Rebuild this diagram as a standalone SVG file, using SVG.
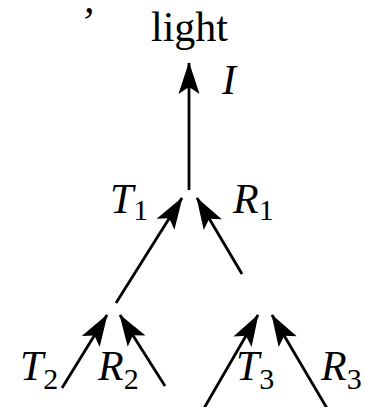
<svg xmlns="http://www.w3.org/2000/svg" width="366" height="407" viewBox="0 0 366 407">
<style>
.lbl{font-family:"Liberation Serif","Times New Roman",serif;font-size:42px;fill:#000}
.it{font-style:italic}
.sub{font-style:normal;font-size:30px}
.conn line{stroke:#000;stroke-width:2.8;fill:none;marker-end:url(#ah)}
</style>
<defs>
<marker id="ah" markerUnits="userSpaceOnUse" viewBox="-34 -12 36 24" refX="0" refY="0" markerWidth="36" markerHeight="24" orient="auto" overflow="visible">
<path d="M1,0 Q-14,-5 -31,-10.5 L-24,0 L-31,10.5 Q-14,5 1,0 Z" fill="#000"/>
</marker>
</defs>
<text class="lbl it" x="84" y="12">,</text>
<g id="light"><text class="lbl" x="151" y="41">light</text></g>
<g class="conn" id="connectors">
<line x1="189" y1="190" x2="189" y2="63"/>
<line x1="116" y1="303" x2="182" y2="198"/>
<line x1="242" y1="274" x2="197" y2="198"/>
<line x1="62" y1="388" x2="107" y2="315"/>
<line x1="165" y1="386" x2="120" y2="315"/>
<line x1="203" y1="410" x2="258" y2="315"/>
<line x1="328" y1="410" x2="272" y2="315"/>
</g>
<g id="I"><text class="lbl it" x="222" y="94">I</text></g>
<g id="T1"><text class="lbl it" x="110" y="213">T<tspan class="sub" dy="7">1</tspan></text></g>
<g id="R1"><text class="lbl it" x="233" y="213">R<tspan class="sub" dy="7">1</tspan></text></g>
<g id="T2"><text class="lbl it" x="20" y="380">T<tspan class="sub" dy="9">2</tspan></text></g>
<g id="R2"><text class="lbl it" x="98" y="380">R<tspan class="sub" dy="9">2</tspan></text></g>
<g id="T3"><text class="lbl it" x="236" y="380">T<tspan class="sub" dy="9">3</tspan></text></g>
<g id="R3"><text class="lbl it" x="321" y="380">R<tspan class="sub" dy="9">3</tspan></text></g>
</svg>
